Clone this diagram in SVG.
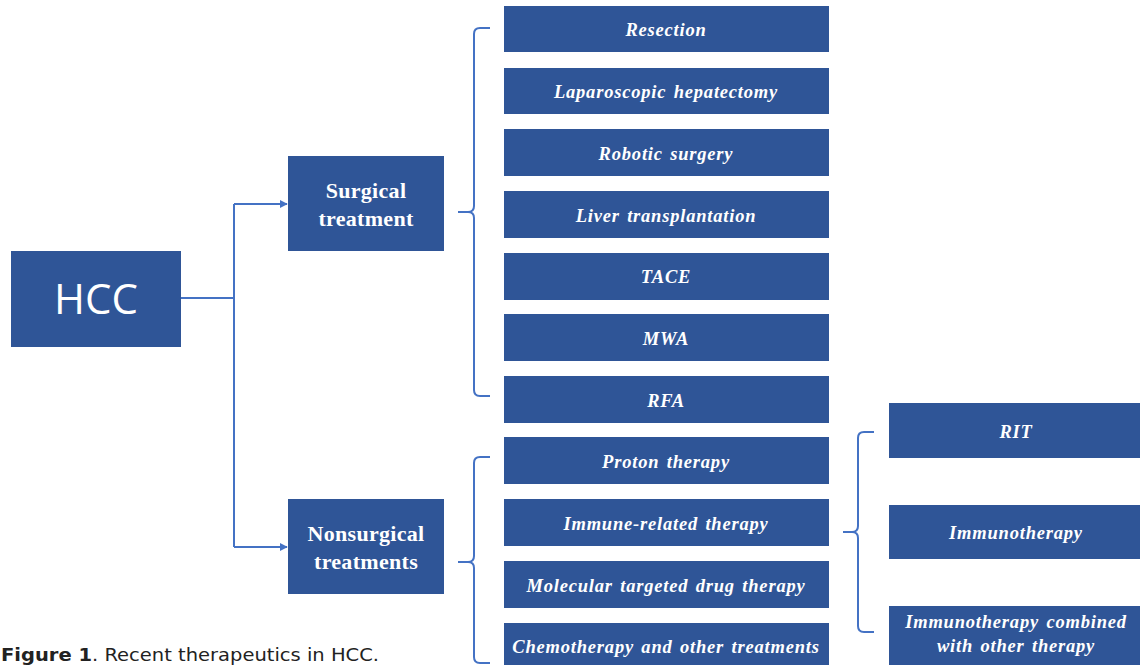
<svg xmlns="http://www.w3.org/2000/svg" width="1140" height="665" viewBox="0 0 1140 665">
<style>
.box{fill:#2F5597;}
.t{fill:#fff;font-family:"Liberation Serif",serif;font-weight:bold;font-style:italic;font-size:18.5px;letter-spacing:0.8px;word-spacing:2px;text-anchor:middle;}
.m{fill:#fff;font-family:"Liberation Serif",serif;font-weight:bold;font-size:22px;letter-spacing:0.3px;text-anchor:middle;}
.c{fill:none;stroke:#4472C4;stroke-width:2;}
</style>
<defs>
<marker id="ah" viewBox="0 0 10 10" refX="9" refY="5" markerWidth="8" markerHeight="8" markerUnits="userSpaceOnUse" orient="auto">
<path d="M0,0 L10,5 L0,10 z" fill="#4472C4"/>
</marker>
</defs>
<rect width="1140" height="665" fill="#fff"/>
<g id="connectors">
<path class="c" d="M181,298 H234"/>
<path class="c" d="M234,204 V547"/>
<path class="c" d="M234,204 H287" marker-end="url(#ah)"/>
<path class="c" d="M234,547 H287" marker-end="url(#ah)"/>
<path class="c" d="M490,28 H480 Q474,28 474,34 V206 Q474,212 468,212 H458 M468,212 Q474,212 474,218 V390 Q474,396 480,396 H490"/>
<path class="c" d="M490,457 H480 Q474,457 474,463 V556 Q474,562 468,562 H458 M468,562 Q474,562 474,568 V657 Q474,663 480,663 H490"/>
<path class="c" d="M874,432 H864 Q858,432 858,438 V526 Q858,532 852,532 H843 M852,532 Q858,532 858,538 V626 Q858,632 864,632 H874"/>
</g>
<g id="hcc"><rect class="box" x="11" y="251" width="170" height="96"/><text x="96" y="314" fill="#fff" font-family="Open Sans, sans-serif" font-size="42" text-anchor="middle">HCC</text></g>
<g id="surgical"><rect class="box" x="288" y="156" width="156" height="95"/><text class="m" x="366" y="198">Surgical</text><text class="m" x="366" y="226">treatment</text></g>
<g id="nonsurgical"><rect class="box" x="288" y="499" width="156" height="95"/><text class="m" x="366" y="541">Nonsurgical</text><text class="m" x="366" y="569">treatments</text></g>
<g id="resection"><rect class="box" x="504" y="6" width="325" height="46"/><text class="t" x="666" y="36">Resection</text></g>
<g id="laparoscopic"><rect class="box" x="504" y="68" width="325" height="46"/><text class="t" x="666" y="98">Laparoscopic hepatectomy</text></g>
<g id="robotic"><rect class="box" x="504" y="129" width="325" height="47"/><text class="t" x="666" y="160">Robotic surgery</text></g>
<g id="liver"><rect class="box" x="504" y="191" width="325" height="47"/><text class="t" x="666" y="222">Liver transplantation</text></g>
<g id="tace"><rect class="box" x="504" y="253" width="325" height="47"/><text class="t" x="666" y="283">TACE</text></g>
<g id="mwa"><rect class="box" x="504" y="314" width="325" height="47"/><text class="t" x="666" y="345">MWA</text></g>
<g id="rfa"><rect class="box" x="504" y="376" width="325" height="47"/><text class="t" x="666" y="407">RFA</text></g>
<g id="proton"><rect class="box" x="504" y="437" width="325" height="47"/><text class="t" x="666" y="468">Proton therapy</text></g>
<g id="immune"><rect class="box" x="504" y="499" width="325" height="47"/><text class="t" x="666" y="530">Immune-related therapy</text></g>
<g id="molecular"><rect class="box" x="504" y="561" width="325" height="47"/><text class="t" x="666" y="592">Molecular targeted drug therapy</text></g>
<g id="chemo"><rect class="box" x="504" y="623" width="325" height="47"/><text class="t" x="666" y="653">Chemotherapy and other treatments</text></g>
<g id="rit"><rect class="box" x="889" y="403" width="255" height="55"/><text class="t" x="1016" y="438">RIT</text></g>
<g id="immunotherapy"><rect class="box" x="889" y="505" width="255" height="54"/><text class="t" x="1016" y="539">Immunotherapy</text></g>
<g id="combined"><rect class="box" x="889" y="606" width="255" height="64"/><text class="t" x="1016" y="628">Immunotherapy combined</text><text class="t" x="1016" y="652">with other therapy</text></g>
<text x="1" y="661" font-family="DejaVu Sans, sans-serif" font-size="18" fill="#222" textLength="378" lengthAdjust="spacingAndGlyphs"><tspan font-weight="bold">Figure 1</tspan>. Recent therapeutics in HCC.</text>
</svg>
